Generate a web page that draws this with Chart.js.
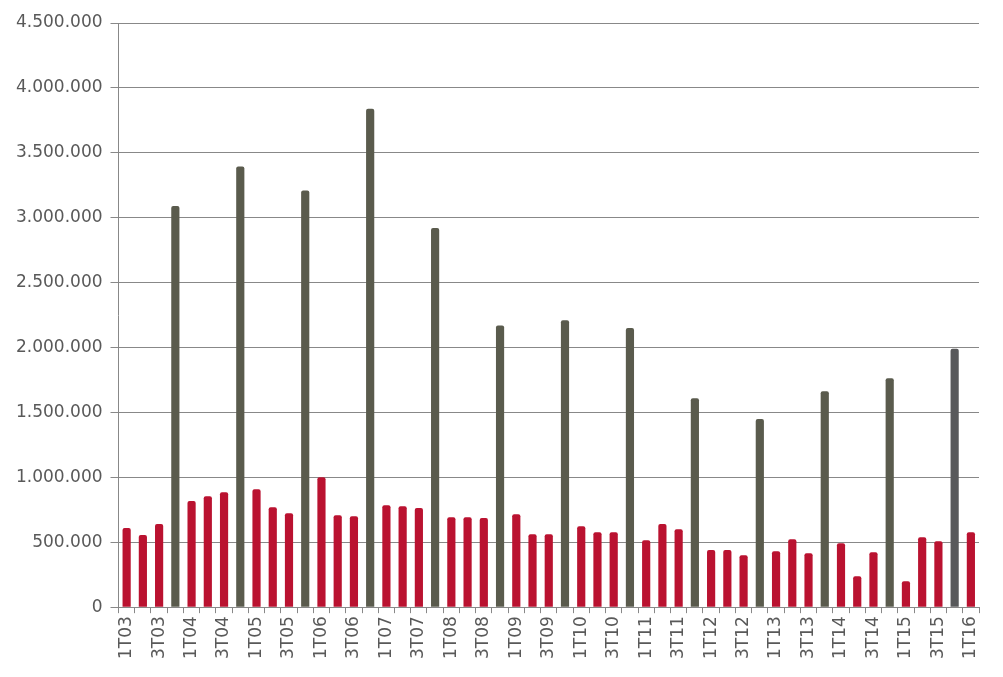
<!DOCTYPE html>
<html>
<head>
<meta charset="utf-8">
<script src="https://cdn.jsdelivr.net/npm/chart.js@4/dist/chart.umd.min.js"></script>
<style>
  html, body { margin: 0; padding: 0; background: #fff; }
  #wrap { width: 1003px; height: 677px; }
</style>
</head>
<body>
<div id="wrap"><canvas id="chart" width="1003" height="677"></canvas></div>
<script>
// ==== Dữ liệu ====
const years = ['03','04','05','06','07','08','09','10','11','12','13','14','15'];
const quarters = [];
years.forEach(y => { for (let q = 1; q <= 4; q++) quarters.push(q + 'T' + y); });
quarters.push('1T16');

const values = [
  610000, 555000, 640000, 3090000,   // 2003
  817000, 855000, 886000, 3395000,   // 2004
  909000, 770000, 724000, 3210000,   // 2005
  1000000, 709000, 701000, 3840000,  // 2006
  786000, 778000, 763000, 2920000,   // 2007
  693000, 693000, 686000, 2170000,   // 2008
  716000, 562000, 562000, 2210000,   // 2009
  624000, 578000, 578000, 2150000,   // 2010
  516000, 640000, 600000, 1610000,   // 2011
  440000, 440000, 400000, 1450000,   // 2012
  430000, 524000, 416000, 1664000,   // 2013
  493000, 239000, 424000, 1764000,   // 2014
  200000, 539000, 508000, 1990000,   // 2015
  578000                             // 1T16
];

const yTicks = [0, 500000, 1000000, 1500000, 2000000, 2500000, 3000000, 3500000, 4000000, 4500000];

// ==== Màu ====
const red = '#ba1230';
const grey = '#5a5b4d';
const lastGrey = '#58595b';
const textColor = '#595959';
const colors = quarters.map((q, i) => {
  if (q.startsWith('4T')) return i === quarters.length - 2 ? lastGrey : grey;
  return red;
});

function fmt(v) {
  return String(v).replace(/\B(?=(\d{3})+(?!\d))/g, '.');
}

const ctx = document.getElementById('chart').getContext('2d');
new Chart(ctx, {
  type: 'bar',
  data: {
    labels: quarters,
    datasets: [{
      data: values,
      backgroundColor: colors,
      borderWidth: 0,
      borderRadius: { topLeft: 2, topRight: 2 },
      borderSkipped: 'bottom',
      barPercentage: 0.7,
      categoryPercentage: 0.72
    }]
  },
  options: {
    responsive: false,
    animation: false,
    layout: { padding: { top: 23, right: 24, left: 8, bottom: 15 } },
    plugins: { legend: { display: false }, tooltip: { enabled: false } },
    scales: {
      x: {
        offset: true,
        grid: { display: true, drawOnChartArea: false, drawTicks: true, tickLength: 6, color: '#888', offset: true },
        border: { display: true, color: '#888', width: 1 },
        ticks: {
          autoSkip: false,
          maxRotation: 90,
          minRotation: 90,
          color: textColor,
          font: { family: 'DejaVu Sans', size: 17 },
          padding: 3,
          callback: function (val, idx) { return idx % 2 === 0 ? quarters[idx] : ''; }
        }
      },
      y: {
        min: 0,
        max: 4500000,
        afterBuildTicks: axis => { axis.ticks = yTicks.map(v => ({ value: v })); },
        grid: { color: '#888', lineWidth: 1, tickLength: 8 },
        border: { display: true, color: '#888', width: 1 },
        ticks: {
          color: textColor,
          font: { family: 'DejaVu Sans', size: 17 },
          padding: 8,
          callback: v => fmt(v)
        }
      }
    }
  }
});
</script>
</body>
</html>
